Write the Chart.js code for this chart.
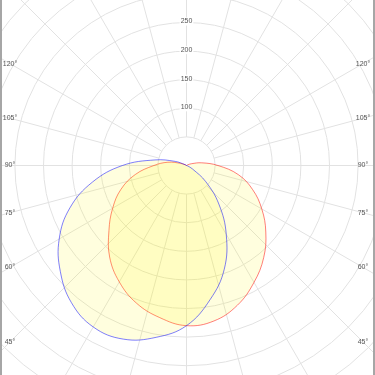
<!DOCTYPE html>
<html>
<head>
<meta charset="utf-8">
<script src="https://cdn.jsdelivr.net/npm/chart.js@4/dist/chart.umd.min.js"></script>
<style>
  body { margin: 0; background: #fff; }
  #wrap { width: 371px; height: 375px; border-left: 2px solid #a6a6a6; border-right: 2px solid #a6a6a6; position: relative; }
</style>
</head>
<body>
<div id="wrap"><canvas id="polar-chart"></canvas></div>
<script>
// gamma angles (0 = straight down), in degrees
var gamma = [0, 10, 20, 30, 40, 50, 60, 70, 80, 90, 100, 110, 120, 130, 140, 150, 160, 170, 180];

// C0 / C180 plane (blue)
var c0   = [280, 238, 193, 139, 88, 44, 12, 2, 0, 0, 0, 0, 0, 0, 0, 0, 0, 0, 0];
var c180 = [280, 305, 323, 326, 313, 288, 257, 217, 167, 112, 56, 21, 3, 0, 0, 0, 0, 0, 0];

// C90 / C270 plane (red)
var c90  = [280, 276, 260, 236, 210, 181, 152, 123, 92, 55, 27, 9, 2, 0, 0, 0, 0, 0, 0];
var c270 = [280, 270, 256, 235, 209, 177, 149, 122, 91, 57, 33, 11, 2, 0, 0, 0, 0, 0, 0];

// grid
var rings = [50, 100, 150, 200, 250, 300, 350, 400, 450, 500];
var ringLabels = [100, 150, 200, 250];
var spokeStep = 15;

//scale: 0.572 px per cd/klm, centre at 184.5 / 165.5 px in the canvas
var PX = 0.572;
var X_MIN = -184.5 / PX, X_MAX = (371 - 184.5) / PX;
var Y_MAX = 165.5 / PX, Y_MIN = Y_MAX - 375 / PX;

//turn one plane (right half + left half) into a closed outline
function planePoints(right, left) {
    var pts = [];
    for (var i = gamma.length - 1; i >= 0; i--) {
        var a = gamma[i] * Math.PI / 180;
        pts.push({ x: right[i] * Math.sin(a), y: -right[i] * Math.cos(a) });
    }
    for (var j = 1; j < gamma.length; j++) {
        var b = gamma[j] * Math.PI / 180;
        pts.push({ x: -left[j] * Math.sin(b), y: -left[j] * Math.cos(b) });
    }
    return pts;
}

//polar grid drawn under the curves
var polarGrid = {
    id: 'polarGrid',
    beforeDatasetsDraw: function (chart) {
        var ctx = chart.ctx, x = chart.scales.x, y = chart.scales.y;
        var cx = x.getPixelForValue(0), cy = y.getPixelForValue(0);
        var unit = x.getPixelForValue(1) - cx;
        ctx.save();
        ctx.strokeStyle = '#e2e2e2';
        ctx.lineWidth = 1;
        rings.forEach(function (r) {
            ctx.beginPath();
            ctx.arc(cx, cy, r * unit, 0, 2 * Math.PI);
            ctx.stroke();
        });
        for (var g = 0; g < 360; g += spokeStep) {
            var a = g * Math.PI / 180;
            ctx.beginPath();
            ctx.moveTo(x.getPixelForValue(50 * Math.sin(a)), y.getPixelForValue(-50 * Math.cos(a)));
            ctx.lineTo(x.getPixelForValue(900 * Math.sin(a)), y.getPixelForValue(-900 * Math.cos(a)));
            ctx.stroke();
        }
        ctx.restore();
    },
    afterDatasetsDraw: function (chart) {
        var ctx = chart.ctx, x = chart.scales.x, y = chart.scales.y, area = chart.chartArea;
        var cx = x.getPixelForValue(0), cy = y.getPixelForValue(0);
        var unit = x.getPixelForValue(1) - cx;
        ctx.save();
        ctx.font = '7px "Liberation Sans", Arial, sans-serif';
        ctx.textAlign = 'center';
        ctx.textBaseline = 'middle';
        //intensity labels on the upper axis
        ringLabels.forEach(function (r) {
            var ly = cy - r * unit - 1;
            var w = ctx.measureText(String(r)).width;
            ctx.fillStyle = '#fff';
            ctx.fillRect(cx - w / 2 - 1, ly - 4, w + 2, 8);
            ctx.fillStyle = '#555';
            ctx.fillText(String(r), cx, ly);
        });
        //angle labels along both edges
        var lx = area.left + 8, rx = area.right - 10;
        for (var g = spokeStep; g < 180; g += spokeStep) {
            var a = g * Math.PI / 180;
            var t = Math.cos(a) / Math.sin(a);
            var yl = cy + (cx - lx) * t, yr = cy + (rx - cx) * t;
            ctx.fillStyle = '#555';
            if (yl > 2 && yl < area.bottom - 2) ctx.fillText(g + '°', lx, yl);
            if (yr > 2 && yr < area.bottom - 2) ctx.fillText(g + '°', rx, yr);
        }
        ctx.restore();
    }
};

var ctx = document.getElementById('polar-chart').getContext('2d');
var chart = new Chart(ctx, {
    type: 'scatter',
    data: {
        datasets: [{
            label: 'C0 - C180',
            data: planePoints(c0, c180),
            showLine: true,
            fill: 'shape',
            tension: 0.4,
            pointRadius: 0,
            borderWidth: 1,
            borderColor: 'rgba(0, 0, 255, 0.5)',
            backgroundColor: 'rgba(255, 250, 0, 0.13)'
        }, {
            label: 'C90 - C270',
            data: planePoints(c90, c270),
            showLine: true,
            fill: 'shape',
            tension: 0.4,
            pointRadius: 0,
            borderWidth: 1,
            borderColor: 'rgba(255, 0, 0, 0.5)',
            backgroundColor: 'rgba(255, 250, 0, 0.13)'
        }]
    },
    options: {
        responsive: true,
        maintainAspectRatio: false,
        animation: false,
        layout: { padding: 0 },
        plugins: { legend: { display: false }, tooltip: { enabled: false } },
        scales: {
            x: { type: 'linear', display: false, min: X_MIN, max: X_MAX },
            y: { type: 'linear', display: false, min: Y_MIN, max: Y_MAX }
        }
    },
    plugins: [polarGrid]
});
</script>
</body>
</html>
